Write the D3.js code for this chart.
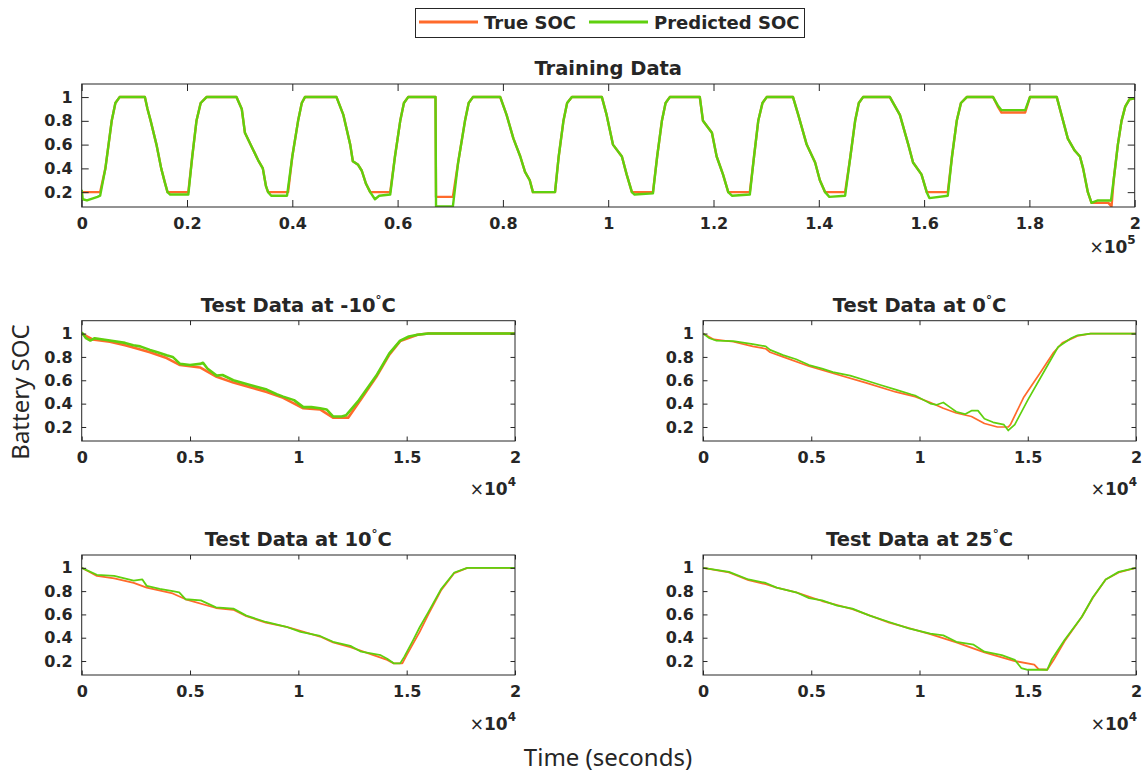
<!DOCTYPE html>
<html>
<head>
<meta charset="utf-8">
<script src="https://cdn.jsdelivr.net/npm/d3@7"></script>
<style>
  body { margin: 0; background: #fff; }
  text { font-family: "DejaVu Sans", sans-serif; fill: #262626; }
</style>
</head>
<body>
<div id="chart"></div>
<script>
// Series: [time (s), SOC]
const trainTrue = [
  [0,0.2],[3500,0.2],[4500,0.4],[5700,0.8],[6400,0.95],[7200,1],[12000,1],[12500,0.9],[13100,0.8],[14200,0.6],[15100,0.4],[15800,0.28],[16300,0.2],[20250,0.2],
  [21000,0.5],[21800,0.8],[22600,0.95],[23700,1],[29400,1],[30400,0.9],[31000,0.7],[32300,0.58],[33500,0.47],[34400,0.4],[35000,0.25],[35400,0.2],[39200,0.2],
  [40000,0.5],[41100,0.8],[41800,0.95],[42400,1],[48400,1],[49700,0.85],[51000,0.6],[51500,0.46],[52500,0.43],[53200,0.38],[54000,0.27],[54800,0.2],[58600,0.2],
  [59500,0.5],[60500,0.8],[61200,0.95],[62000,1],[67200,1],[67300,0.16],[70500,0.16],
  [71500,0.45],[72800,0.8],[73500,0.95],[74300,1],[79500,1],[80700,0.85],[82000,0.65],[83300,0.5],[84200,0.37],[85100,0.3],[85700,0.2],[89900,0.2],
  [90600,0.5],[91500,0.8],[92200,0.95],[93100,1],[98800,1],[99700,0.85],[100900,0.6],[102600,0.5],[103500,0.35],[104500,0.2],[108500,0.2],
  [109300,0.5],[110200,0.8],[110900,0.95],[111700,1],[117400,1],[118000,0.8],[119700,0.7],[120600,0.5],[121800,0.35],[122800,0.2],[126900,0.2],
  [127700,0.5],[128500,0.8],[129300,0.95],[130100,1],[135100,1],[136100,0.85],[137700,0.6],[139300,0.45],[140200,0.3],[141200,0.2],[145000,0.2],
  [146000,0.5],[146900,0.8],[147600,0.95],[148400,1],[153500,1],[155400,0.85],[157000,0.6],[157900,0.45],[159500,0.35],[160500,0.2],[164500,0.2],
  [165300,0.5],[166200,0.8],[167000,0.95],[168100,1],[173100,1],[174000,0.92],[174700,0.87],[179200,0.87],[180100,1],[185200,1],
  [186400,0.8],[187300,0.65],[188600,0.55],[189600,0.5],[190200,0.4],[191100,0.2],[191800,0.11],[195000,0.11],[195600,0.08],[196000,0.3],[196800,0.6],[197500,0.8],[198200,0.92],[199000,0.98],[200000,0.99]
];
const trainPred = [
  [0,0.22],[200,0.14],[1000,0.13],[3000,0.16],[3500,0.17],[4500,0.4],[5700,0.8],[6400,0.95],[7200,1],[12000,1],[12500,0.9],[13100,0.8],[14200,0.6],[15100,0.4],[15800,0.28],[16300,0.2],[16800,0.18],[20250,0.18],
  [21000,0.5],[21800,0.8],[22600,0.95],[23700,1],[29400,1],[30400,0.9],[31000,0.7],[32300,0.58],[33500,0.47],[34400,0.4],[35000,0.25],[35400,0.2],[36000,0.17],[39000,0.17],
  [40000,0.5],[41100,0.8],[41800,0.95],[42400,1],[48400,1],[49700,0.85],[51000,0.6],[51500,0.46],[52500,0.43],[53200,0.38],[54000,0.27],[54800,0.2],[55700,0.14],[56500,0.17],[58600,0.18],
  [59500,0.5],[60500,0.8],[61200,0.95],[62000,1],[67200,1],[67300,0.08],[70500,0.08],
  [71500,0.45],[72800,0.8],[73500,0.95],[74300,1],[79500,1],[80700,0.85],[82000,0.65],[83300,0.5],[84200,0.37],[85100,0.3],[85700,0.2],[89900,0.2],
  [90600,0.5],[91500,0.8],[92200,0.95],[93100,1],[98800,1],[99700,0.85],[100900,0.6],[102600,0.5],[103500,0.35],[104500,0.2],[105000,0.18],[108500,0.19],
  [109300,0.5],[110200,0.8],[110900,0.95],[111700,1],[117400,1],[118000,0.8],[119700,0.7],[120600,0.5],[121800,0.35],[122800,0.2],[123500,0.17],[126900,0.18],
  [127700,0.5],[128500,0.8],[129300,0.95],[130100,1],[135100,1],[136100,0.85],[137700,0.6],[139300,0.45],[140200,0.3],[141200,0.2],[142000,0.16],[145000,0.17],
  [146000,0.5],[146900,0.8],[147600,0.95],[148400,1],[153500,1],[155400,0.85],[157000,0.6],[157900,0.45],[159500,0.35],[160500,0.2],[161000,0.15],[164500,0.17],
  [165300,0.5],[166200,0.8],[167000,0.95],[168100,1],[173100,1],[174000,0.93],[174700,0.89],[179200,0.89],[180100,1],[185200,1],
  [186400,0.8],[187300,0.65],[188600,0.55],[189600,0.5],[190200,0.4],[191100,0.2],[191800,0.11],[193000,0.13],[195500,0.13],[196000,0.3],[196800,0.6],[197500,0.8],[198200,0.92],[199000,0.98],[200000,0.99]
];

const testM10True = [[0,1],[500,0.95],[1300,0.93],[2000,0.9],[2380,0.88],[3150,0.84],[3920,0.79],[4540,0.73],[5460,0.71],[6230,0.63],[7000,0.58],[7770,0.54],[8540,0.5],[9300,0.45],[10230,0.36],[11000,0.35],[11600,0.28],[12300,0.28],[12900,0.44],[13600,0.63],[14200,0.82],[14700,0.935],[15500,0.99],[16000,1],[20000,1]];
const testM10Pred = [[0,1.01],[200,0.96],[400,0.94],[600,0.96],[1300,0.94],[2000,0.92],[2380,0.9],[2700,0.89],[3150,0.86],[3500,0.84],[3920,0.815],[4200,0.8],[4540,0.74],[5000,0.73],[5460,0.74],[5600,0.75],[5800,0.7],[6230,0.64],[6500,0.645],[7000,0.6],[7770,0.56],[8540,0.52],[9000,0.48],[9300,0.46],[9800,0.43],[10230,0.37],[10600,0.37],[11000,0.36],[11300,0.35],[11600,0.29],[12000,0.29],[12200,0.3],[12800,0.43],[13600,0.64],[14200,0.83],[14700,0.94],[15100,0.975],[15500,0.99],[16000,1],[20000,1]];

const test0True = [[0,1],[500,0.95],[1400,0.93],[2300,0.89],[2900,0.87],[3100,0.84],[3700,0.8],[4900,0.72],[6000,0.66],[7500,0.58],[8900,0.5],[9800,0.46],[10500,0.41],[11100,0.36],[11700,0.32],[12400,0.29],[13000,0.23],[13600,0.2],[14100,0.2],[14200,0.22],[14800,0.45],[15600,0.67],[16200,0.84],[16600,0.92],[17300,0.98],[17900,1],[20000,1]];
const test0Pred = [[0,1],[300,0.96],[600,0.94],[1400,0.935],[2300,0.91],[2900,0.89],[3100,0.86],[3700,0.815],[4300,0.78],[4900,0.73],[5500,0.7],[6000,0.67],[6800,0.64],[7500,0.6],[8200,0.56],[8900,0.52],[9600,0.48],[9800,0.47],[10500,0.4],[10800,0.39],[11100,0.41],[11400,0.37],[11700,0.33],[12100,0.31],[12400,0.34],[12700,0.34],[13000,0.27],[13400,0.24],[13900,0.22],[14100,0.17],[14400,0.22],[15000,0.43],[15800,0.69],[16400,0.885],[17000,0.96],[17300,0.985],[17900,1],[20000,1]];

const test10True = [[0,1],[700,0.93],[1500,0.91],[2400,0.87],[3000,0.83],[4200,0.78],[4800,0.73],[6200,0.655],[7000,0.64],[7600,0.585],[8500,0.53],[9500,0.49],[11000,0.41],[11600,0.36],[12400,0.32],[13000,0.28],[14100,0.21],[14400,0.18],[14800,0.18],[15000,0.25],[15600,0.45],[16000,0.6],[16600,0.81],[17200,0.955],[17800,1],[20000,1]];
const test10Pred = [[0,1],[700,0.94],[1500,0.93],[2400,0.89],[2800,0.9],[3000,0.845],[3600,0.82],[4200,0.8],[4500,0.79],[4800,0.73],[5500,0.72],[6200,0.66],[7000,0.65],[7600,0.59],[8500,0.535],[9500,0.49],[10100,0.45],[11000,0.415],[11600,0.365],[12400,0.33],[12900,0.28],[13800,0.25],[14100,0.22],[14400,0.18],[14700,0.18],[14900,0.24],[15300,0.38],[15600,0.49],[16000,0.62],[16600,0.82],[17200,0.96],[17800,1],[20000,1]];

const test25True = [[0,1],[1200,0.96],[2100,0.895],[2900,0.86],[3400,0.83],[4300,0.79],[5500,0.715],[6900,0.645],[8600,0.53],[10500,0.43],[11700,0.36],[13000,0.275],[14400,0.2],[15300,0.17],[15500,0.13],[15900,0.125],[16200,0.21],[16700,0.37],[17500,0.58],[18000,0.74],[18600,0.9],[19200,0.96],[20000,1]];
const test25Pred = [[0,1],[1200,0.965],[2100,0.9],[2900,0.87],[3400,0.83],[4300,0.79],[4900,0.74],[5500,0.72],[6200,0.675],[6900,0.65],[7700,0.59],[8600,0.535],[9500,0.48],[10500,0.435],[11100,0.42],[11700,0.365],[12500,0.34],[13000,0.28],[13800,0.25],[14400,0.21],[14700,0.14],[15000,0.125],[15900,0.125],[16100,0.21],[16700,0.38],[17500,0.58],[18000,0.745],[18600,0.9],[19200,0.965],[20000,1]];

const seriesNames = ["True SOC", "Predicted SOC"];
const seriesColors = ["#ff6a2b", "#5fd00e"];
const socTicks = [0.2, 0.4, 0.6, 0.8, 1];
const trainTimeTicks = d3.range(0, 200001, 20000);
const testTimeTicks = [0, 5000, 10000, 15000, 20000];

const width = 1145, height = 773;
const svg = d3.select("#chart").append("svg")
  .attr("width", width).attr("height", height);

const fmt = d3.format("~g");

function panel(opt) {
  const g = svg.append("g");
  const x = d3.scaleLinear().domain(opt.xDomain).range([opt.x0, opt.x1]);
  const y = d3.scaleLinear().domain(opt.yDomain).range([opt.y1, opt.y0]);
  const tl = opt.tick;

  // data lines
  const line = d3.line().x(d => x(d[0])).y(d => y(d[1]));
  const clipId = "clip" + Math.round(opt.x0) + "_" + Math.round(opt.y0);
  svg.append("clipPath").attr("id", clipId).append("rect")
    .attr("x", opt.x0).attr("y", opt.y0).attr("width", opt.x1 - opt.x0).attr("height", opt.y1 - opt.y0);
  const lines = g.append("g").attr("clip-path", `url(#${clipId})`);
  [opt.trueData, opt.predData].forEach((data, i) => {
    lines.append("path").datum(data)
      .attr("fill", "none")
      .attr("stroke", seriesColors[i])
      .attr("stroke-width", opt.lw)
      .attr("stroke-linejoin", "round")
      .attr("d", line);
  });

  // axes (inside ticks on all sides)
  const styleAxis = sel => {
    sel.select(".domain").remove();
    sel.selectAll(".tick line").attr("stroke", "#262626");
    sel.selectAll(".tick text")
      .style("font-family", "DejaVu Sans, sans-serif")
      .style("font-size", "16px").style("font-weight", "bold").attr("fill", "#262626");
  };
  g.append("g").attr("transform", `translate(0,${opt.y1})`)
    .call(d3.axisBottom(x).tickValues(opt.xTicks).tickSize(-tl).tickPadding(11)
      .tickFormat(d => fmt(d / opt.xScale)))
    .call(styleAxis);
  g.append("g").attr("transform", `translate(0,${opt.y0})`)
    .call(d3.axisTop(x).tickValues(opt.xTicks).tickSize(-tl).tickFormat(""))
    .call(styleAxis);
  g.append("g").attr("transform", `translate(${opt.x0},0)`)
    .call(d3.axisLeft(y).tickValues(socTicks).tickSize(-tl).tickPadding(9).tickFormat(fmt))
    .call(styleAxis);
  g.append("g").attr("transform", `translate(${opt.x1},0)`)
    .call(d3.axisRight(y).tickValues(socTicks).tickSize(-tl).tickFormat(""))
    .call(styleAxis);

  g.append("rect")
    .attr("x", opt.x0).attr("y", opt.y0)
    .attr("width", opt.x1 - opt.x0).attr("height", opt.y1 - opt.y0)
    .attr("fill", "none").attr("stroke", "#262626").attr("stroke-width", 1);

  // title
  const t = g.append("text")
    .attr("x", (opt.x0 + opt.x1) / 2).attr("y", opt.y0 - 9)
    .attr("text-anchor", "middle")
    .style("font-size", "19.5px").style("font-weight", "bold").attr("fill", "#000");
  t.append("tspan").text(opt.title);
  if (opt.deg) {
    t.append("tspan").attr("dy", -8).style("font-size", "12px").text("°");
    t.append("tspan").attr("dy", 8).text("C");
  }

  // exponent label
  const e = g.append("text")
    .attr("x", opt.x1 + 1).attr("y", opt.y1 + opt.expGap)
    .attr("text-anchor", "end")
    .style("font-size", "17px").style("font-weight", "bold");
  e.append("tspan").style("font-weight", "normal").text("×");
  e.append("tspan").text("10");
  e.append("tspan").attr("dy", -9).style("font-size", "12px").text(opt.exp);
}

const topDom = [0.075, 1.11], testDom = [0.08, 1.11];
panel({ x0: 81.7, x1: 1134.7, y0: 84, y1: 207, xDomain: [0, 200000], yDomain: topDom,
  xTicks: trainTimeTicks, xScale: 1e5, exp: "5", expGap: 46, tick: 7, lw: 2.4,
  title: "Training Data", trueData: trainTrue, predData: trainPred });
panel({ x0: 81.7, x1: 515, y0: 320.7, y1: 441, xDomain: [0, 20000], yDomain: testDom,
  xTicks: testTimeTicks, xScale: 1e4, exp: "4", expGap: 54, tick: 4.5, lw: 2.6,
  title: "Test Data at -10", deg: true, trueData: testM10True, predData: testM10Pred });
panel({ x0: 703, x1: 1136, y0: 320.7, y1: 441, xDomain: [0, 20000], yDomain: testDom,
  xTicks: testTimeTicks, xScale: 1e4, exp: "4", expGap: 54, tick: 4.5, lw: 1.7,
  title: "Test Data at 0", deg: true, trueData: test0True, predData: test0Pred });
panel({ x0: 81.7, x1: 515, y0: 555, y1: 675, xDomain: [0, 20000], yDomain: testDom,
  xTicks: testTimeTicks, xScale: 1e4, exp: "4", expGap: 55, tick: 4.5, lw: 1.8,
  title: "Test Data at 10", deg: true, trueData: test10True, predData: test10Pred });
panel({ x0: 703, x1: 1136, y0: 555, y1: 675, xDomain: [0, 20000], yDomain: testDom,
  xTicks: testTimeTicks, xScale: 1e4, exp: "4", expGap: 55, tick: 4.5, lw: 1.8,
  title: "Test Data at 25", deg: true, trueData: test25True, predData: test25Pred });

// axis labels
svg.append("text")
  .attr("transform", "translate(29,392) rotate(-90)")
  .attr("text-anchor", "middle")
  .style("font-family", "Noto Sans, sans-serif")
  .style("font-size", "24px")
  .text("Battery SOC");
svg.append("text")
  .attr("x", 608).attr("y", 766)
  .attr("text-anchor", "middle")
  .style("font-family", "Noto Sans, sans-serif")
  .style("font-size", "24px")
  .text("Time (seconds)");

// legend
const lg = svg.append("g");
lg.append("rect").attr("x", 415.5).attr("y", 8.5).attr("width", 389).attr("height", 29)
  .attr("fill", "#fff").attr("stroke", "#262626").attr("stroke-width", 1);
const legendX = [419, 589];
seriesNames.forEach((name, i) => {
  lg.append("line")
    .attr("x1", legendX[i]).attr("x2", legendX[i] + 59)
    .attr("y1", 22).attr("y2", 22)
    .attr("stroke", seriesColors[i]).attr("stroke-width", 3);
  lg.append("text")
    .attr("x", legendX[i] + 65).attr("y", 29)
    .style("font-size", "18px").style("font-weight", "bold").attr("fill", "#000")
    .text(name);
});
</script>
</body>
</html>
